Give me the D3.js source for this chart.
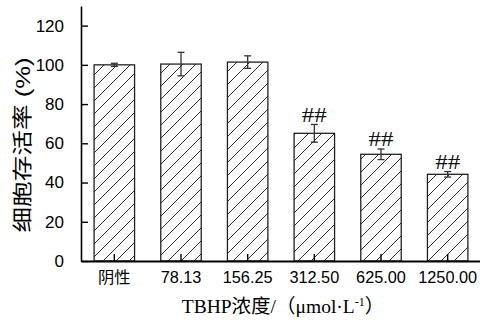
<!DOCTYPE html>
<html>
<head>
<meta charset="utf-8">
<script src="https://cdn.jsdelivr.net/npm/d3@7/dist/d3.min.js"></script>
<style>
  html, body { margin: 0; padding: 0; background: #fff; }
  svg { display: block; }
</style>
</head>
<body>
<svg id="chart" width="480" height="322"></svg>
<script>
// Cell viability after TBHP exposure
const categories = ["阴性", "78.13", "156.25", "312.50", "625.00", "1250.00"];
const means = [100, 100.4, 101.4, 65.1, 54.4, 44.2];
const errors = [0.8, 6, 3.2, 4.5, 2.7, 1.4];
const marks = ["", "", "", "##", "##", "##"];
const yTicks = [0, 20, 40, 60, 80, 100, 120];

const rows = categories.map((c, i) => ({ c, m: means[i], e: errors[i], s: marks[i] }));

const svg = d3.select("#chart");
const plotLeft = 81, plotRight = 481, plotTop = 6, plotBottom = 261;

const x = d3.scaleBand().domain(categories).range([plotLeft, plotRight]).padding(0);
const y = d3.scaleLinear().domain([0, 130]).range([plotBottom, plotTop]);
const barW = x.bandwidth() * 0.607;

// diagonal hatch fill
const defs = svg.append("defs");
const pat = defs.append("pattern")
  .attr("id", "hatch")
  .attr("patternUnits", "userSpaceOnUse")
  .attr("width", 13).attr("height", 13);
pat.append("rect").attr("width", 13).attr("height", 13).attr("fill", "#fff");
pat.append("path")
  .attr("d", "M-1,14 L14,-1 M-4,4 L4,-4 M9,17 L17,9")
  .attr("stroke", "#1a1a1a").attr("stroke-width", 0.9);

// bars
svg.append("g").selectAll("rect").data(rows).join("rect")
  .attr("x", d => x(d.c) + (x.bandwidth() - barW) / 2)
  .attr("y", d => y(d.m))
  .attr("width", barW)
  .attr("height", d => y(0) - y(d.m))
  .attr("fill", "url(#hatch)")
  .attr("stroke", "#222").attr("stroke-width", 1.3);

// error bars
const eg = svg.append("g").attr("stroke", "#333").attr("stroke-width", 1.3);
rows.forEach(d => {
  const cx = x(d.c) + x.bandwidth() / 2;
  eg.append("line").attr("x1", cx).attr("x2", cx).attr("y1", y(d.m - d.e)).attr("y2", y(d.m + d.e));
  eg.append("line").attr("x1", cx - 3.5).attr("x2", cx + 3.5).attr("y1", y(d.m + d.e)).attr("y2", y(d.m + d.e));
  eg.append("line").attr("x1", cx - 3.5).attr("x2", cx + 3.5).attr("y1", y(d.m - d.e)).attr("y2", y(d.m - d.e));
});

// significance marks
svg.append("g").selectAll("text").data(rows.filter(d => d.s)).join("text")
  .attr("x", d => x(d.c) + x.bandwidth() / 2)
  .attr("y", d => y(d.m + d.e) - 2.5)
  .attr("text-anchor", "middle")
  .attr("font-family", "'Liberation Serif', 'Times New Roman', serif")
  .attr("font-size", 20)
  .attr("textLength", 25).attr("lengthAdjust", "spacingAndGlyphs")
  .attr("fill", "#111")
  .text(d => d.s);

// y axis with inward ticks
const yAxis = d3.axisLeft(y).tickValues(yTicks).tickSizeInner(-7).tickSizeOuter(0).tickPadding(17);
const gy = svg.append("g").attr("transform", `translate(${plotLeft},0)`).call(yAxis);
gy.select(".domain").attr("stroke", "#000").attr("stroke-width", 1.6);
gy.selectAll(".tick line").attr("stroke", "#000").attr("stroke-width", 1.4);
gy.selectAll(".tick text")
  .attr("font-family", "'Liberation Sans', Arial, sans-serif")
  .attr("font-size", 17).attr("fill", "#000");

// x axis with inward ticks
const xAxis = d3.axisBottom(x).tickSizeInner(-7).tickSizeOuter(0).tickPadding(10.5);
const gx = svg.append("g").attr("transform", `translate(0,${plotBottom})`).call(xAxis);
gx.select(".domain").attr("stroke", "#000").attr("stroke-width", 1.8);
gx.selectAll(".tick line").attr("stroke", "#000").attr("stroke-width", 1.4);
gx.selectAll(".tick text")
  .attr("font-family", "'Liberation Sans', Arial, 'Noto Sans CJK SC', sans-serif")
  .attr("font-size", 16.3).attr("fill", "#000");

// axis titles
svg.append("text")
  .attr("transform", "translate(23,145) rotate(-90)")
  .attr("text-anchor", "middle")
  .attr("dominant-baseline", "central")
  .attr("font-family", "'Liberation Sans', Arial, 'Noto Sans CJK SC', sans-serif")
  .attr("font-size", 20)
  .attr("textLength", 175).attr("lengthAdjust", "spacingAndGlyphs")
  .text("细胞存活率 (%)");

const xt = svg.append("text")
  .attr("x", 283).attr("y", 313)
  .attr("text-anchor", "middle")
  .attr("font-family", "'Liberation Serif', 'Times New Roman', 'Noto Sans CJK SC', serif")
  .attr("font-size", 19.5);
xt.append("tspan").text("TBHP浓度/（μmol·L");
xt.append("tspan").attr("font-size", 12).attr("dy", -7).text("-1");
xt.append("tspan").attr("dy", 7).text("）");
</script>
</body>
</html>
